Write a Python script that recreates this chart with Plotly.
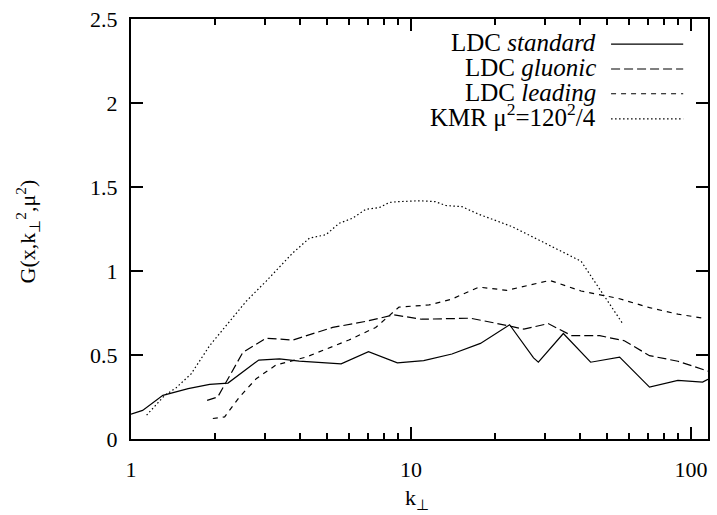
import plotly.graph_objects as go

# ---- data ----
std_k = [1.0, 1.1, 1.3, 1.6, 1.91, 2.22, 2.86, 3.39, 3.99, 5.63, 7.05, 8.94, 11.1, 14.0, 17.7, 22.5, 27.4, 28.5, 35.0, 43.8, 55.6, 71.1, 89.8, 110, 115]
std_g = [0.148, 0.17, 0.26, 0.30, 0.325, 0.333, 0.47, 0.477, 0.463, 0.447, 0.52, 0.453, 0.467, 0.506, 0.569, 0.68, 0.483, 0.457, 0.628, 0.457, 0.487, 0.309, 0.349, 0.339, 0.355]

glu_k = [1.87, 2.04, 2.51, 3.04, 3.78, 5.25, 6.89, 8.7, 10.9, 16.3, 22.3, 25.3, 30.9, 37.5, 47.2, 57.8, 71.1, 89.8, 115]
glu_g = [0.23, 0.25, 0.516, 0.60, 0.589, 0.664, 0.70, 0.739, 0.713, 0.719, 0.674, 0.654, 0.687, 0.615, 0.615, 0.585, 0.496, 0.463, 0.404]

lead_k = [1.96, 2.16, 2.44, 2.80, 3.30, 4.21, 6.0, 7.48, 9.06, 11.6, 13.9, 17.5, 22.0, 31.3, 40.5, 54.9, 71.1, 89.8, 111]
lead_g = [0.122, 0.132, 0.25, 0.359, 0.441, 0.487, 0.589, 0.664, 0.785, 0.798, 0.831, 0.904, 0.885, 0.944, 0.881, 0.837, 0.782, 0.743, 0.719]

kmr_k = [1.137, 1.32, 1.45, 1.64, 1.91, 2.31, 2.58, 3.04, 3.78, 4.34, 4.97, 5.54, 6.18, 6.89, 7.7, 8.36, 9.04, 10.7, 12.2, 13.3, 15.2, 17.5, 22.9, 28.5, 32.6, 40.5, 57.0]
kmr_g = [0.142, 0.26, 0.305, 0.388, 0.556, 0.723, 0.82, 0.94, 1.107, 1.196, 1.216, 1.284, 1.314, 1.367, 1.377, 1.408, 1.413, 1.418, 1.413, 1.39, 1.383, 1.337, 1.265, 1.186, 1.137, 1.058, 0.687]

series_names = ["LDC <i>standard</i>", "LDC <i>gluonic</i>", "LDC <i>leading</i>",
                "KMR μ<sup>2</sup>=120<sup>2</sup>/4"]
x_ticks = [1, 10, 100]
x_tick_labels = ["1", "10", "100"]
y_ticks = [0, 0.5, 1, 1.5, 2, 2.5]
y_tick_labels = ["0", "0.5", "1", "1.5", "2", "2.5"]

FONT = "Liberation Serif, Times New Roman, serif"
dashes = ["solid", "9px,4px", "5px,5px", "1.5px,2.5px"]

fig = go.Figure()
for xs, ys, d in [(std_k, std_g, dashes[0]), (glu_k, glu_g, dashes[1]),
                  (lead_k, lead_g, dashes[2]), (kmr_k, kmr_g, dashes[3])]:
    fig.add_trace(go.Scatter(x=xs, y=ys, mode="lines", showlegend=False,
                             line=dict(color="black", width=1.2, dash=d)))

# legend (text right-aligned, sample line to the right, as gnuplot does)
rows_text_y = [0.944, 0.885, 0.826, 0.772]
rows_line_y = [0.940, 0.881, 0.822, 0.762]
for name, d, ty, ly in zip(series_names, dashes, rows_text_y, rows_line_y):
    fig.add_annotation(x=0.809, y=ty, xref="paper", yref="paper", text=name,
                       showarrow=False, xanchor="right", yanchor="middle",
                       font=dict(family=FONT, size=25, color="black"))
    fig.add_shape(type="line", xref="paper", yref="paper", x0=0.832, x1=0.957,
                  y0=ly, y1=ly, line=dict(color="black", width=1.2, dash=d))

# axis titles
fig.add_annotation(x=-0.21, y=0.495, xref="paper", yref="paper",
                   text="G(x,k<sub>⊥</sub><sup>2</sup>,μ<sup>2</sup>)", textangle=-90,
                   showarrow=False, font=dict(family=FONT, size=22, color="black"))
fig.add_annotation(x=0.496, y=-0.142, xref="paper", yref="paper",
                   text="k<sub>⊥</sub>", showarrow=False, yanchor="middle",
                   font=dict(family=FONT, size=22, color="black"))

minor_vals = [2, 3, 4, 5, 6, 7, 8, 9, 20, 30, 40, 50, 60, 70, 80, 90]

fig.update_xaxes(type="log", range=[0, 2.0607], tickvals=x_ticks, ticktext=x_tick_labels,
                 ticks="inside", ticklen=12, tickwidth=1.5, tickcolor="black",
                 showline=True, linecolor="black", linewidth=2, mirror="allticks",
                 showgrid=False, zeroline=False, ticklabelstandoff=10,
                 tickfont=dict(family=FONT, size=22, color="black"),
                 minor=dict(tickvals=minor_vals, ticks="inside", ticklen=6,
                            tickwidth=1.5, tickcolor="black", showgrid=False))
fig.update_yaxes(range=[0, 2.5], tickvals=y_ticks, ticktext=y_tick_labels,
                 ticks="inside", ticklen=12, tickwidth=1.5, tickcolor="black",
                 showline=True, linecolor="black", linewidth=2, mirror="allticks",
                 showgrid=False, zeroline=False, ticklabelstandoff=7,
                 tickfont=dict(family=FONT, size=22, color="black"))

fig.update_layout(width=717, height=515, margin=dict(l=131, r=7, t=16, b=76),
                  plot_bgcolor="white", paper_bgcolor="white",
                  font=dict(family=FONT, color="black"))

fig.write_html("out.html", config={"displayModeBar": False},
               post_script="document.body.style.margin='0';")
